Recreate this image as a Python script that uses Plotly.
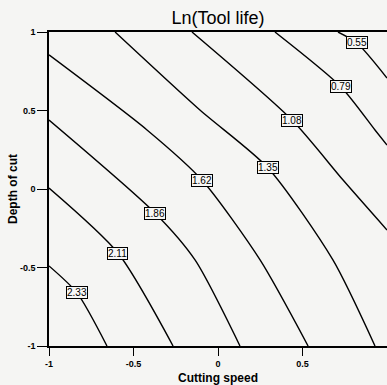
import plotly.graph_objects as go

# Contour levels (labels)
levels = ["0.55", "0.79", "1.08", "1.35", "1.62", "1.86", "2.11", "2.33"]

# Points along each contour line (Cutting speed, Depth of cut)
x_055 = [0.710, 0.822, 1.000]
y_055 = [1.000, 0.930, 0.707]
x_079 = [0.337, 0.728, 0.929, 1.000]
y_079 = [1.000, 0.650, 0.376, 0.280]
x_108 = [-0.154, 0.438, 0.740, 1.000]
y_108 = [1.000, 0.439, 0.057, -0.261]
x_135 = [-0.609, -0.107, 0.296, 0.680, 0.929]
y_135 = [1.000, 0.503, 0.134, -0.452, -1.000]
x_162 = [-1.000, -0.420, -0.095, 0.249, 0.533]
y_162 = [0.854, 0.376, 0.057, -0.452, -1.000]
x_186 = [-1.000, -0.373, -0.136, 0.130]
y_186 = [0.439, -0.153, -0.452, -1.000]
x_211 = [-1.000, -0.592, -0.266]
y_211 = [0.006, -0.408, -1.000]
x_233 = [-1.000, -0.834, -0.657]
y_233 = [-0.490, -0.662, -1.000]

lines_x = [x_055, x_079, x_108, x_135, x_162, x_186, x_211, x_233]
lines_y = [y_055, y_079, y_108, y_135, y_162, y_186, y_211, y_233]

# Label positions on each line
label_x = [0.822, 0.728, 0.438, 0.296, -0.095, -0.373, -0.592, -0.834]
label_y = [0.930, 0.650, 0.439, 0.134, 0.057, -0.153, -0.408, -0.662]

tick_vals = [-1, -0.5, 0, 0.5, 1]
tick_text = ["-1", "-0.5", "0", "0.5", "1"]

FONT = "Liberation Sans, Arial"

fig = go.Figure()
for lx, ly in zip(lines_x, lines_y):
    fig.add_trace(go.Scatter(x=lx, y=ly, mode="lines",
                             line=dict(color="black", width=1.4, shape="spline", smoothing=0.7),
                             hoverinfo="skip", showlegend=False))

for txt, ax_, ay_ in zip(levels, label_x, label_y):
    fig.add_annotation(x=ax_, y=ay_, text=txt, showarrow=False,
                       font=dict(family=FONT, size=10, color="black"),
                       bgcolor="#f7f7f5", bordercolor="black", borderwidth=1, borderpad=0)

bg = "#f5f5f3"
W, H = 387, 385
fig.update_layout(
    width=W, height=H,
    margin=dict(l=49, r=0, t=32, b=39),
    paper_bgcolor=bg, plot_bgcolor=bg,
    title=dict(text="Ln(Tool life)", x=218 / W, xanchor="center",
               y=1 - 18 / H, yanchor="middle",
               font=dict(family=FONT, size=18, color="black")),
    xaxis=dict(range=[-1, 1], tickvals=tick_vals, ticktext=tick_text, automargin=False,
               showgrid=False, zeroline=False, showline=True, linecolor="black",
               linewidth=1.5, mirror=True, ticks="outside", ticklen=8, tickcolor="black",
               tickfont=dict(family=FONT, size=9, color="black", weight="bold"),
               title=dict(text="Cutting speed", standoff=8,
                          font=dict(family=FONT, size=12, color="black", weight="bold"))),
    yaxis=dict(range=[-1, 1], tickvals=tick_vals, ticktext=tick_text, automargin=False,
               showgrid=False, zeroline=False, showline=True, linecolor="black",
               linewidth=1.5, ticks="outside", ticklen=10, tickcolor="black",
               tickfont=dict(family=FONT, size=9, color="black", weight="bold"),
               title=dict(text="Depth of cut", standoff=0,
                          font=dict(family=FONT, size=12, color="black", weight="bold"))),
)

fig.write_html("out.html", config={"displayModeBar": False},
               post_script="document.body.style.margin='0';document.body.style.overflow='hidden';")
